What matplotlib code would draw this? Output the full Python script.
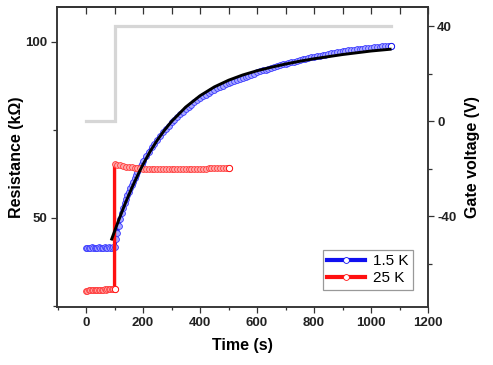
import numpy as np
import matplotlib

matplotlib.use("Agg")
import matplotlib.pyplot as plt
from matplotlib.ticker import MultipleLocator

plt.rcParams["font.family"] = ["Liberation Sans", "DejaVu Sans"]
plt.rcParams["axes.unicode_minus"] = False

# 1.5 K trace: 5 s sampling up to 195 s, then 10 s sampling to 1070 s
t_blue = np.concatenate([np.arange(0, 200, 5), np.arange(200, 1071, 10)])
r_blue = [
    41.4, 41.5, 41.4, 41.5, 41.6, 41.5, 41.4, 41.5, 41.5, 41.6,
    41.5, 41.4, 41.5, 41.6, 41.5, 41.5, 41.6, 41.5, 41.5, 41.6,
    41.6, 43.9, 45.8, 47.8, 49.6, 51.3, 52.8, 54.2, 55.4, 56.5,
    57.5, 58.5, 59.4, 60.3, 61.2, 62.1, 63.0, 63.8, 64.6, 65.4,
    66.1, 67.5, 68.8, 70.0, 71.1, 72.2, 73.3, 74.3, 75.3, 76.2,
    77.1, 77.9, 78.7, 79.5, 80.2, 80.9, 81.6, 82.2, 82.8, 83.4,
    84.0, 84.5, 85.0, 85.5, 86.0, 86.4, 86.8, 87.2, 87.6, 88.0,
    88.3, 88.6, 88.9, 89.2, 89.5, 89.8, 90.1, 90.4, 90.7, 91.0,
    91.3, 91.6, 91.9, 92.1, 92.4, 92.6, 92.9, 93.1, 93.4, 93.6,
    93.8, 94.0, 94.2, 94.4, 94.6, 94.8, 95.0, 95.2, 95.4, 95.6,
    95.8, 95.95, 96.1, 96.25, 96.4, 96.55, 96.7, 96.85, 97.0, 97.15,
    97.3, 97.45, 97.55, 97.65, 97.75, 97.85, 97.95, 98.05, 98.15, 98.25,
    98.35, 98.45, 98.55, 98.65, 98.7, 98.8, 98.85, 98.9,
]

# 25 K trace: before the gate step (5 s), after it (10 s)
t_red = np.concatenate([np.arange(0, 101, 5), np.arange(100, 501, 10)])
r_red = [
    29.3, 29.3, 29.4, 29.4, 29.4, 29.5, 29.5, 29.5, 29.5, 29.6,
    29.6, 29.6, 29.6, 29.7, 29.6, 29.7, 29.7, 29.7, 29.7, 29.7, 29.7,
    65.3, 65.1, 64.9, 64.7, 64.6, 64.5, 64.4, 64.3, 64.2, 64.1,
    64.0, 63.9, 63.9, 63.9, 63.8, 63.8, 63.8, 63.8, 63.8, 63.8,
    63.8, 63.8, 63.8, 63.9, 63.9, 63.9, 63.9, 63.9, 64.0, 64.0,
    64.0, 64.0, 64.0, 64.1, 64.1, 64.1, 64.1, 64.1, 64.2, 64.2, 64.2,
]

# fit curve for the 1.5 K relaxation
t_fit = [90, 100, 110, 120, 130, 140, 150, 160, 170, 180, 190, 200, 225, 250, 275,
         300, 350, 400, 450, 500, 550, 600, 650, 700, 750, 800, 850, 900, 950, 1000, 1067]
r_fit = [44.0, 46.2, 48.4, 50.5, 52.6, 54.6, 56.5, 58.4, 60.2, 61.9, 63.6, 65.2, 68.9, 72.1, 74.9,
         77.4, 81.5, 84.7, 87.2, 89.1, 90.6, 91.8, 92.8, 93.7, 94.5, 95.2, 95.8, 96.4, 96.9, 97.4, 97.9]

# gate voltage step
t_gate = [0, 100, 100, 1070]
v_gate = [0, 0, 40, 40]

BLUE = "#1010f0"
RED = "#ff1010"
AXC = "#333333"

fig = plt.figure(figsize=(4.93, 3.65), dpi=100)
ax = fig.add_axes([57 / 493, 1 - 307 / 365, (428 - 57) / 493, 300 / 365])
ax2 = ax.twinx()

ax2.plot(t_gate, v_gate, color="#d6d6d6", lw=2.3, solid_joinstyle="miter", zorder=1)

ax.plot(t_blue, r_blue, color=BLUE, lw=2.4, marker="o", ms=4.2, mfc="#a8a8ff", mec="#3a3aff",
        mew=0.6, label="1.5 K", zorder=2)
ax.plot(t_blue[-1], r_blue[-1], "o", ms=4.5, mfc="white", mec=BLUE, mew=0.7, zorder=2)
ax.plot(t_red, r_red, color=RED, lw=2.4, marker="o", ms=4.2, mfc="#ffa8a8", mec="#ff3a3a",
        mew=0.6, label="25 K", zorder=3)
ax.plot(t_red[20], r_red[20], "o", ms=4.5, mfc="white", mec=RED, mew=0.7, zorder=3)
ax.plot(t_red[-1], r_red[-1], "o", ms=4.5, mfc="white", mec=RED, mew=0.7, zorder=3)
ax.plot(t_fit, r_fit, color="black", lw=2.1, zorder=4)

ax.set_xlim(-102, 1200)
ax.set_ylim(24.7, 109.9)
ax2.set_ylim(-78.3, 48)

ax.xaxis.set_major_locator(MultipleLocator(200))
ax.xaxis.set_minor_locator(MultipleLocator(100))
ax.yaxis.set_major_locator(MultipleLocator(50))
ax.yaxis.set_minor_locator(MultipleLocator(25))
ax2.yaxis.set_major_locator(MultipleLocator(40))
ax2.yaxis.set_minor_locator(MultipleLocator(20))

for a in (ax, ax2):
    for s in a.spines.values():
        s.set_color(AXC)
        s.set_linewidth(1.1)

ax.tick_params(axis="x", which="major", direction="out", length=4, width=0.9, color=AXC,
               labelsize=9.5, pad=3, top=False)
ax.tick_params(axis="x", which="minor", direction="out", length=2.5, width=0.9, color=AXC, top=False)
ax.tick_params(axis="y", which="major", direction="out", length=4, width=0.9, color=AXC,
               labelsize=9.5, pad=3)
ax.tick_params(axis="y", which="minor", direction="out", length=3, width=0.9, color=AXC)
ax2.tick_params(axis="y", which="major", direction="out", length=4.5, width=0.9, color=AXC,
                labelsize=9.5, pad=2)
ax2.tick_params(axis="y", which="minor", direction="out", length=3, width=0.9, color=AXC)

top = ax.secondary_xaxis("top")
top.set_xticks(np.arange(0, 1201, 100))
top.tick_params(direction="in", length=5, width=0.9, color=AXC, labeltop=False)
top.spines["top"].set_color(AXC)
top.spines["top"].set_linewidth(1.1)

for lab in ax.get_xticklabels() + ax.get_yticklabels() + ax2.get_yticklabels():
    lab.set_fontweight("bold")
    lab.set_color("#222222")

ax.set_xlabel("Time (s)", fontsize=11.5, fontweight="bold", labelpad=7)
ax.set_ylabel("Resistance (k\u03a9)", fontsize=11.5, fontweight="bold", labelpad=1)
ax2.set_ylabel("Gate voltage (V)", fontsize=11.5, fontweight="bold", labelpad=6)

leg = ax.legend(loc="lower right", bbox_to_anchor=(0.96, 0.057), borderaxespad=0,
                fontsize=11, numpoints=1, handlelength=2.5, handletextpad=0.5,
                borderpad=0.3, labelspacing=0.2, fancybox=False, framealpha=1)
leg.get_frame().set_edgecolor("#999999")
leg.get_frame().set_linewidth(0.9)
for line in leg.get_lines():
    line.set_linewidth(3)
    line.set_color(BLUE if line.get_label() == "1.5 K" else RED)
    line.set_markerfacecolor("white")
    line.set_markeredgecolor(line.get_color())

fig.savefig("out.png", dpi=100)
